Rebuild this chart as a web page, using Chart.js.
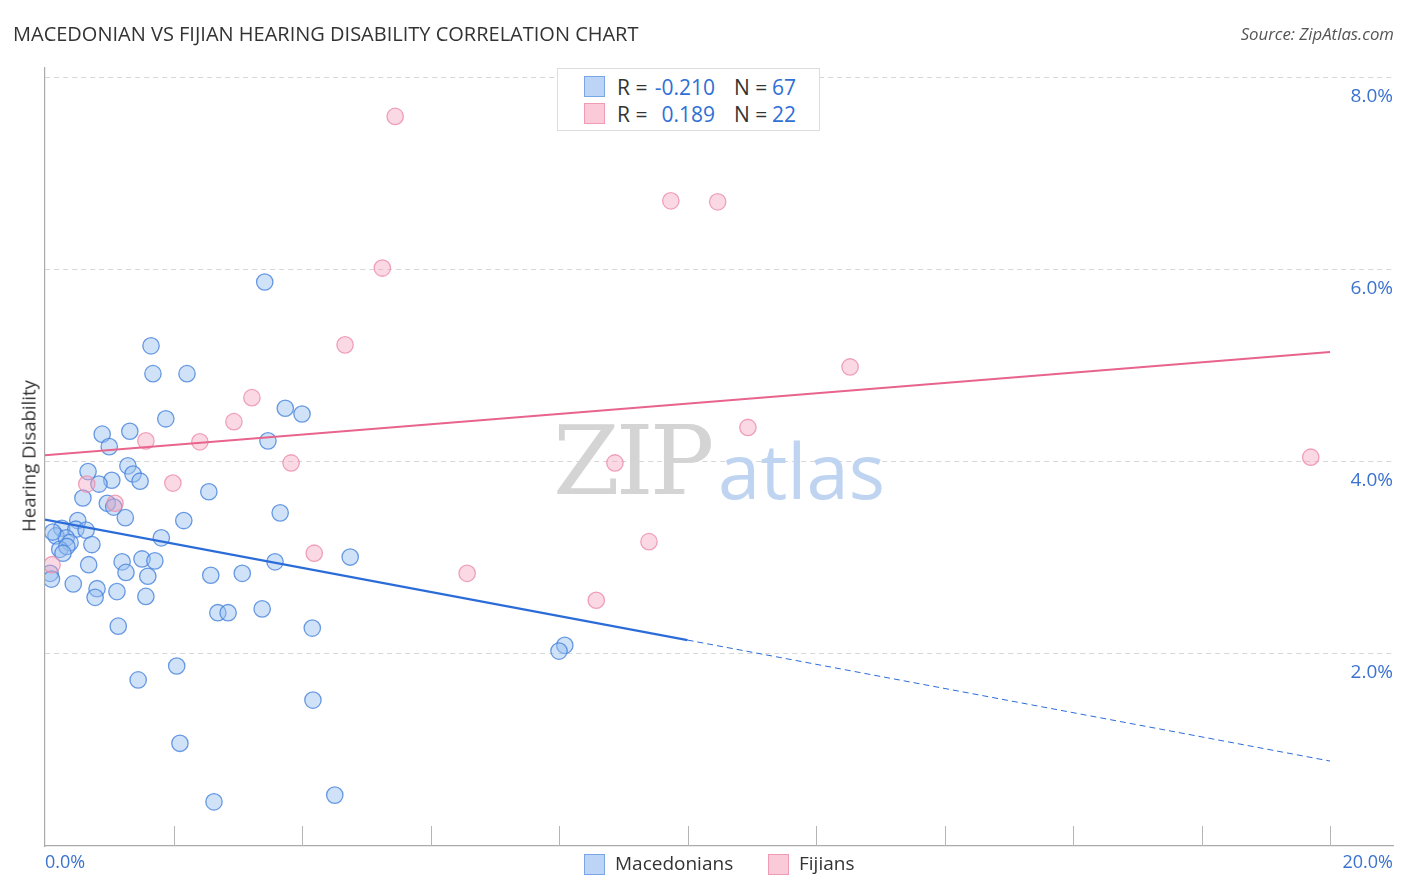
<!DOCTYPE html>
<html>
<head>
<meta charset="utf-8">
<script src="https://cdn.jsdelivr.net/npm/chart.js@4.4.1/dist/chart.umd.min.js"></script>
<style>
body{margin:0;background:#fff;font-family:"Open Sans",sans-serif;}
#wrap{position:relative;width:1406px;height:892px;overflow:hidden;}
canvas{position:absolute;left:0;top:0;}
.abs{position:absolute;white-space:nowrap;}
#title{left:13px;top:20px;font-size:20px;color:#333;}
#source{right:12px;top:22px;font-size:16.8px;color:#555;font-style:italic;}
#ytitle{left:28px;top:456px;font-size:18.6px;color:#333;transform:translate(-50%,-50%) rotate(-90deg);}
#stats{left:557px;top:68px;width:261px;height:61px;border:1px solid #ddd;background:#fff;font-size:21px;color:#333;}
#stats span{position:absolute;line-height:24px;}
.sw{display:inline-block;width:19px;height:19px;border:1px solid;}
.blue{color:#2f6fd6;}
.bl{position:absolute;top:852px;font-size:19px;color:#333;line-height:22px;}
.bl .sw{vertical-align:middle;margin-right:10px;}
#wm{left:553px;top:405px;font-size:96px;font-family:"DejaVu Serif",serif;color:#d4d4d4;letter-spacing:-4px;}
#wm2{left:718px;top:418px;font-size:76px;font-family:"Open Sans",sans-serif;color:#bfd4f1;}
</style>
</head>
<body>
<div id="wrap">
<canvas id="c" width="1406" height="892"></canvas>
<div class="abs" id="wm">ZIP</div>
<div class="abs" id="wm2">atlas</div>
<div class="abs" id="title">MACEDONIAN VS FIJIAN HEARING DISABILITY CORRELATION CHART</div>
<div class="abs" id="source">Source: ZipAtlas.com</div>
<div class="abs" id="ytitle">Hearing Disability</div>
<div class="abs" id="stats">
  <span class="sw" style="left:26px;top:7px;background:#bcd4f6;border-color:#7aa6e6"></span>
  <span style="left:59px;top:6px">R =</span>
  <span class="blue" style="right:104px;top:6px">-0.210</span>
  <span style="left:176px;top:6px">N =</span>
  <span class="blue" style="left:214px;top:6px">67</span>
  <span class="sw" style="left:26px;top:34px;background:#fbcad8;border-color:#f09ab4"></span>
  <span style="left:59px;top:33px">R =</span>
  <span class="blue" style="right:104px;top:33px">0.189</span>
  <span style="left:176px;top:33px">N =</span>
  <span class="blue" style="left:214px;top:33px">22</span>
</div>
<div class="bl" style="left:584px"><span class="sw" style="background:#bcd4f6;border-color:#7aa6e6"></span>Macedonians</div>
<div class="bl" style="left:768px"><span class="sw" style="background:#fbcad8;border-color:#f09ab4"></span>Fijians</div>
</div>
<script>
// 馬其頓人 (x: %, y: %)
const macX=[3.42,1.65,1.68,2.21,1.88,3.74,4.00,0.89,1.32,1.00,3.47,1.29,0.67,1.37,1.48,1.04,0.84,0.59,2.55,0.97,1.07,1.25,0.51,2.16,3.66,0.26,0.48,0.64,0.17,0.33,0.39,0.73,1.81,0.23,0.12,0.34,1.20,1.51,1.71,3.58,4.75,0.68,1.26,1.60,2.58,3.07,0.08,0.10,0.44,0.81,1.12,0.78,1.57,2.69,2.85,3.38,1.14,4.16,8.09,8.00,2.05,1.45,4.17,2.10,2.63,4.51,0.28];
const macY=[5.875,5.21,4.92,4.92,4.45,4.56,4.50,4.29,4.32,4.16,4.22,3.96,3.90,3.875,3.80,3.81,3.77,3.625,3.69,3.57,3.53,3.42,3.39,3.39,3.47,3.31,3.30,3.29,3.23,3.21,3.16,3.14,3.21,3.09,3.27,3.12,2.96,2.99,2.97,2.96,3.01,2.93,2.85,2.81,2.82,2.84,2.84,2.78,2.73,2.68,2.65,2.59,2.60,2.43,2.43,2.47,2.29,2.27,2.09,2.03,1.875,1.73,1.52,1.07,0.46,0.53,3.05];
// 斐濟人
const fijX=[5.45,9.74,10.47,5.25,4.67,12.53,3.22,2.94,10.94,1.57,2.41,3.83,8.87,19.70,1.99,0.65,1.09,9.40,4.19,6.57,8.58,0.11];
const fijY=[7.60,6.72,6.71,6.02,5.22,4.99,4.67,4.42,4.36,4.22,4.21,3.99,3.99,4.05,3.78,3.77,3.57,3.17,3.05,2.84,2.56,2.93];
// 趨勢線端點
const macTrendX=[0,10,20], macTrendY=[3.40,2.145,0.885];
const fijTrendX=[0,20], fijTrendY=[4.07,5.146];
const yTicks=[2,4,6,8];
const xTickStep=2;

const pts=(xs,ys)=>xs.map((x,i)=>({x,y:ys[i]}));

const axisDeco={
  id:'axisDeco',
  afterDraw(ch){
    const c=ch.ctx,xs=ch.scales.x,ys=ch.scales.y,a=ch.chartArea;
    c.save();
    c.strokeStyle='#b5b5b5';c.lineWidth=1;
    for(let v=xTickStep;v<=20;v+=xTickStep){
      const px=Math.round(xs.getPixelForValue(v))+0.5;
      c.beginPath();c.moveTo(px,a.bottom-20);c.lineTo(px,a.bottom);c.stroke();
    }
    c.fillStyle='#3b72d0';c.font='19px "Open Sans"';c.textBaseline='middle';
    c.textAlign='right';
    yTicks.forEach(v=>c.fillText(v.toFixed(1)+'%',a.right,ys.getPixelForValue(v)+19));
    c.font='18px "Open Sans"';
    c.textAlign='left';c.fillText('0.0%',a.left,a.bottom+17);
    c.textAlign='right';c.fillText('20.0%',a.right,a.bottom+17);
    c.restore();
  }
};

new Chart(document.getElementById('c'),{
  type:'scatter',
  data:{datasets:[
    {type:'line',data:pts(macTrendX.slice(0,2),macTrendY.slice(0,2)),borderColor:'#2b6cd8',borderWidth:2.2,pointRadius:0,order:0},
    {type:'line',data:pts(macTrendX.slice(1),macTrendY.slice(1)),borderColor:'#2b6cd8',borderWidth:1,borderDash:[6,4],pointRadius:0,order:0},
    {type:'line',data:pts(fijTrendX,fijTrendY),borderColor:'#e8648d',borderWidth:2.2,pointRadius:0,order:0},
    {data:pts(fijX,fijY),backgroundColor:'rgba(246,160,188,0.4)',borderColor:'rgba(236,140,170,0.8)',borderWidth:1.3,pointRadius:8.2,order:1},
    {data:pts(macX,macY),backgroundColor:'rgba(150,190,240,0.45)',borderColor:'rgba(70,130,220,0.8)',borderWidth:1.3,pointRadius:8.2,order:2}
  ]},
  options:{
    responsive:false,animation:false,
    layout:{padding:{left:45,right:13,top:68,bottom:46}},
    plugins:{legend:{display:false},tooltip:{enabled:false}},
    scales:{
      x:{type:'linear',min:0,max:20.98,
        afterFit:s=>{s.height=0;},
        ticks:{display:false},
        grid:{display:false},
        border:{display:true,color:'#aaa',width:1.2}},
      y:{type:'linear',min:0,max:8.104,
        afterFit:s=>{s.width=0;},
        afterBuildTicks:s=>{s.ticks=yTicks.map(v=>({value:v}));},
        ticks:{display:false},
        grid:{color:'#d6d6d6',drawTicks:false,lineWidth:1},
        border:{display:true,color:'#aaa',width:1.2,dash:[5,4]}}
    }
  },
  plugins:[axisDeco]
});
</script>
</body>
</html>
